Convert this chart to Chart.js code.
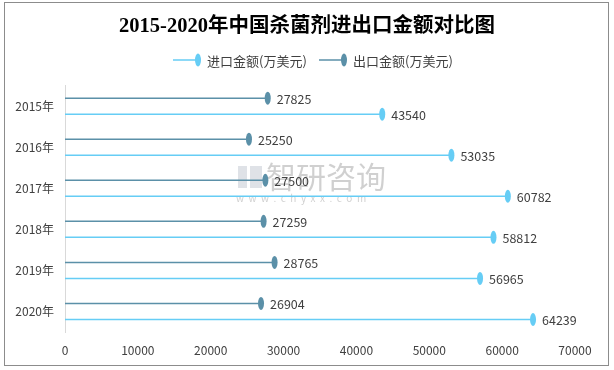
<!DOCTYPE html>
<html>
<head>
<meta charset="utf-8">
<script src="https://cdn.jsdelivr.net/npm/chart.js@4/dist/chart.umd.min.js"></script>
<style>
  html, body { margin: 0; padding: 0; background: #fff; }
  #wrap { position: relative; width: 614px; height: 370px; }
</style>
</head>
<body>
<div id="wrap"><canvas id="chart" width="614" height="370"></canvas></div>
<script>
// data
const years = ['2015年', '2016年', '2017年', '2018年', '2019年', '2020年'];
const exportValues = [27825, 25250, 27500, 27259, 28765, 26904];
const importValues = [43540, 53035, 60782, 58812, 56965, 64239];
const xTicks = [0, 10000, 20000, 30000, 40000, 50000, 60000, 70000];
const legendNames = ['进口金额(万美元)', '出口金额(万美元)'];

const DARK = '#5b90a8';
const LIGHT = '#66cdf5';
const FONT = '"Noto Sans CJK SC", "Noto Sans", sans-serif';

// frame + watermark
const framePlugin = {
    id: 'frame',
    beforeDraw(chart) {
        const ctx = chart.ctx;
        ctx.save();
        ctx.fillStyle = '#fff';
        ctx.fillRect(0, 0, chart.width, chart.height);
        ctx.strokeStyle = '#8c8c8c';
        ctx.lineWidth = 1;
        ctx.strokeRect(4.5, 2.5, 604, 363);
        ctx.restore();
    },
    beforeDatasetsDraw(chart) {
        const ctx = chart.ctx;
        ctx.save();
        ctx.fillStyle = 'rgba(150,160,175,0.3)';
        ctx.fillRect(238, 166, 9, 22);
        ctx.fillRect(250, 166, 12, 22);
        ctx.fillStyle = 'rgba(150,150,150,0.45)';
        ctx.font = '30px ' + FONT;
        ctx.textBaseline = 'middle';
        ctx.fillText('智研咨询', 266, 177);
        ctx.font = '10px ' + FONT;
        ctx.fillText('w  w  w  .  c  h  y  x  x  .  c  o  m', 236, 198);
        ctx.restore();
    }
};

// legend: short line with an ellipse at its end, then the name
const legendPlugin = {
    id: 'lollipopLegend',
    afterDraw(chart) {
        const ctx = chart.ctx;
        const items = [
            { x: 173, color: LIGHT, text: legendNames[0] },
            { x: 319, color: DARK, text: legendNames[1] }
        ];
        const y = 60;
        ctx.save();
        ctx.font = '13px ' + FONT;
        ctx.textBaseline = 'middle';
        items.forEach(it => {
            ctx.strokeStyle = it.color;
            ctx.lineWidth = 1.5;
            ctx.beginPath(); ctx.moveTo(it.x, y); ctx.lineTo(it.x + 25, y); ctx.stroke();
            ctx.fillStyle = it.color;
            ctx.beginPath(); ctx.ellipse(it.x + 25, y, 3, 6.5, 0, 0, Math.PI * 2); ctx.fill();
            ctx.fillStyle = '#404040';
            ctx.fillText(it.text, it.x + 34, y + 1);
        });
        ctx.restore();
    }
};

// ellipse markers and value labels at the end of each line
const lollipopPlugin = {
    id: 'lollipop',
    afterDatasetsDraw(chart) {
        const ctx = chart.ctx;
        ctx.save();
        chart.data.datasets.forEach((ds, i) => {
            const meta = chart.getDatasetMeta(i);
            meta.data.forEach((bar, j) => {
                ctx.fillStyle = ds.borderColor;
                ctx.beginPath();
                ctx.ellipse(bar.x, bar.y, 3, 6.5, 0, 0, Math.PI * 2);
                ctx.fill();
                ctx.fillStyle = '#404040';
                ctx.font = '12.5px ' + FONT;
                ctx.textBaseline = 'middle';
                ctx.fillText(String(ds.data[j]), bar.x + 9, bar.y + 1);
            });
        });
        ctx.restore();
    }
};

new Chart(document.getElementById('chart'), {
    type: 'bar',
    data: {
        labels: years,
        datasets: [
            { label: '出口金额(万美元)', data: exportValues, backgroundColor: DARK, borderColor: DARK, maxBarThickness: 1.5 },
            { label: '进口金额(万美元)', data: importValues, backgroundColor: LIGHT, borderColor: LIGHT, maxBarThickness: 1.5 }
        ]
    },
    options: {
        indexAxis: 'y',
        responsive: false,
        animation: false,
        events: [],
        layout: { padding: 0 },
        datasets: { bar: { categoryPercentage: 0.78, barPercentage: 1 } },
        plugins: {
            title: {
                display: true,
                text: '2015-2020年中国杀菌剂进出口金额对比图',
                color: '#000',
                font: { family: '"Liberation Serif", "Noto Sans CJK SC", serif', size: 20.5, weight: 'bold', lineHeight: 1.2 },
                padding: { top: 14, bottom: 47 }
            },
            legend: { display: false },
            tooltip: { enabled: false }
        },
        scales: {
            x: {
                min: 0, max: 70000,
                afterBuildTicks: s => { s.ticks = xTicks.map(v => ({ value: v })); },
                afterFit: s => { s.height = 38; },
                grid: { display: false, drawTicks: false },
                border: { display: false },
                ticks: { color: '#404040', font: { family: FONT, size: 12 }, padding: 11, maxRotation: 0, callback: v => String(v) }
            },
            y: {
                afterFit: s => { s.width = 65; },
                grid: { display: false, drawTicks: false },
                border: { display: true, color: '#d9d9d9', width: 1 },
                ticks: { color: '#404040', font: { family: FONT, size: 12 }, padding: 11 }
            },
            // empty axis on the right, only to keep room there
            yRight: {
                type: 'category',
                position: 'right',
                afterFit: s => { s.width = 39; },
                grid: { display: false, drawTicks: false },
                border: { display: false },
                ticks: { display: false }
            }
        }
    },
    plugins: [framePlugin, lollipopPlugin, legendPlugin]
});
</script>
</body>
</html>
